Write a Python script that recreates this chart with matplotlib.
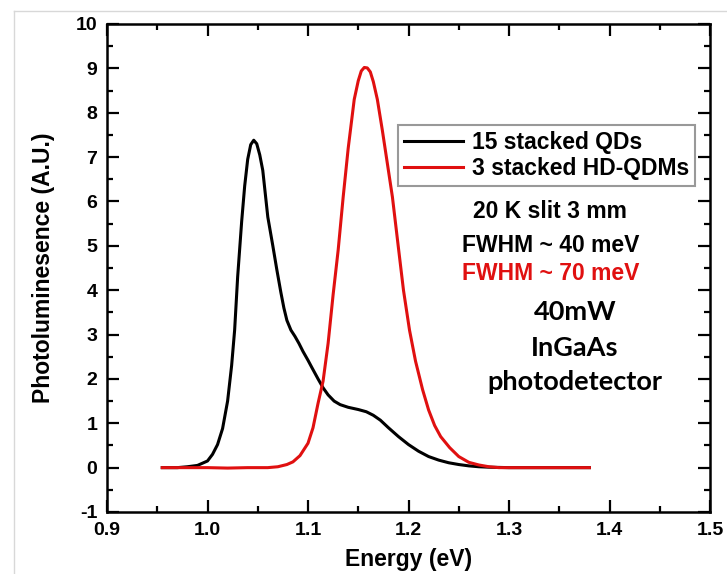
import matplotlib
matplotlib.use("Agg")
import matplotlib.pyplot as plt
from matplotlib.lines import Line2D
from matplotlib.ticker import MultipleLocator

# ---- data ----
qd_energy = [0.955, 0.97, 0.98, 0.99, 1.000, 1.005, 1.010, 1.015, 1.020, 1.024,
             1.027, 1.030, 1.034, 1.037, 1.040, 1.043, 1.046, 1.049, 1.052, 1.055,
             1.060, 1.065, 1.069, 1.073, 1.076, 1.079, 1.083, 1.087, 1.091, 1.095,
             1.100, 1.104, 1.110, 1.115, 1.120, 1.126, 1.132, 1.140, 1.150, 1.158,
             1.165, 1.172, 1.180, 1.190, 1.200, 1.210, 1.220, 1.230, 1.240, 1.250,
             1.260, 1.270, 1.280, 1.300, 1.320, 1.340, 1.360, 1.380]
qd_pl = [0.00, 0.00, 0.02, 0.05, 0.15, 0.30, 0.52, 0.88, 1.50, 2.30,
         3.10, 4.30, 5.55, 6.35, 6.95, 7.28, 7.38, 7.30, 7.05, 6.70,
         5.65, 5.00, 4.46, 3.95, 3.60, 3.32, 3.10, 2.96, 2.80, 2.62,
         2.42, 2.25, 2.00, 1.80, 1.64, 1.50, 1.42, 1.36, 1.31, 1.26,
         1.18, 1.07, 0.90, 0.70, 0.52, 0.37, 0.25, 0.17, 0.11, 0.07,
         0.04, 0.02, 0.01, 0.00, 0.00, 0.00, 0.00, 0.00]

qdm_energy = [0.955, 0.98, 1.00, 1.02, 1.04, 1.06, 1.070, 1.079, 1.085, 1.092,
              1.100, 1.105, 1.110, 1.115, 1.120, 1.125, 1.130, 1.135, 1.140, 1.146,
              1.150, 1.153, 1.156, 1.159, 1.162, 1.165, 1.169, 1.174, 1.179, 1.184,
              1.190, 1.195, 1.201, 1.207, 1.214, 1.220, 1.226, 1.232, 1.241, 1.250,
              1.260, 1.270, 1.280, 1.290, 1.310, 1.330, 1.350, 1.365, 1.380]
qdm_pl = [0.00, 0.00, 0.00, -0.01, 0.00, 0.00, 0.02, 0.07, 0.13, 0.27,
          0.55, 0.90, 1.45, 1.95, 2.80, 3.90, 4.90, 6.10, 7.20, 8.30,
          8.72, 8.94, 9.02, 9.01, 8.92, 8.70, 8.30, 7.60, 6.85, 6.10,
          4.95, 4.00, 3.10, 2.40, 1.76, 1.30, 0.95, 0.70, 0.45, 0.25,
          0.12, 0.06, 0.02, 0.00, 0.00, 0.00, 0.00, 0.00, 0.00]

series_labels = ["15 stacked QDs", "3 stacked HD-QDMs"]
x_ticks = [0.9, 1.0, 1.1, 1.2, 1.3, 1.4, 1.5]
y_ticks = [-1, 0, 1, 2, 3, 4, 5, 6, 7, 8, 9, 10]

W, H = 727, 574
fig = plt.figure(figsize=(W / 100, H / 100), dpi=100)
ax = fig.add_axes([107 / W, 1 - 512 / H, (710 - 107) / W, (512 - 24) / H])

sans = ["Liberation Sans", "DejaVu Sans"]

ax.plot(qd_energy, qd_pl, color="black", lw=2.2, label=series_labels[0], zorder=3)
ax.plot(qdm_energy, qdm_pl, color="#e01010", lw=2.2, label=series_labels[1], zorder=4)

ax.set_xlim(0.9, 1.5)
ax.set_ylim(-1, 10)
ax.set_xticks(x_ticks)
ax.set_yticks(y_ticks)
ax.set_xticklabels([f"{v:.1f}" for v in x_ticks])
ax.set_yticklabels([str(v) for v in y_ticks])
ax.xaxis.set_minor_locator(MultipleLocator(0.05))
ax.yaxis.set_minor_locator(MultipleLocator(0.5))
ax.tick_params(which="both", direction="in", top=True, right=True, width=1.6)
ax.tick_params(which="major", length=8.5, pad=7)
ax.tick_params(which="minor", length=4.5)
for lbl in ax.get_xticklabels() + ax.get_yticklabels():
    lbl.set_fontfamily(sans)
    lbl.set_fontweight("bold")
    lbl.set_fontsize(14)
for s in ax.spines.values():
    s.set_linewidth(1.8)

ax.set_xlabel("Energy (eV)", fontsize=16.5, fontweight="bold", family=sans, labelpad=7)
ax.set_ylabel("Photoluminesence (A.U.)", fontsize=16.5, fontweight="bold", family=sans, labelpad=15)

leg = ax.legend(loc="upper left", bbox_to_anchor=((398 - 107) / 603, 1 - (125 - 24) / 488),
                frameon=True, fancybox=False, edgecolor="#808080", handlelength=2.6,
                prop={"family": sans, "weight": "bold", "size": 16.5},
                borderpad=0.25, labelspacing=0.15, handletextpad=0.4, borderaxespad=0)
leg.get_frame().set_linewidth(1.5)

def px(xp, yp):
    return (xp - 107) / 603, (512 - yp) / 488

ax.text(*px(550, 212), "20 K slit 3 mm", transform=ax.transAxes, ha="center", va="center",
        fontsize=16.5, fontweight="bold", family=sans)
ax.text(*px(551, 245), "FWHM ~ 40 meV", transform=ax.transAxes, ha="center", va="center",
        fontsize=16.5, fontweight="bold", family=sans)
ax.text(*px(551, 273), "FWHM ~ 70 meV", transform=ax.transAxes, ha="center", va="center",
        fontsize=16.5, fontweight="bold", family=sans, color="#e01010")

cal = ["Lato", "DejaVu Sans"]
for txt, yp in [("40mW", 312), ("InGaAs", 348), ("photodetector", 382)]:
    ax.text(*px(575, yp), txt, transform=ax.transAxes, ha="center", va="center",
            fontsize=19.5, fontweight="bold", family=cal)

# faint frame around the picture
fig.add_artist(Line2D([14 / W, 14 / W], [0, 1 - 11 / H], color="#d8d8d8", lw=1))
fig.add_artist(Line2D([14 / W, 1], [1 - 11 / H, 1 - 11 / H], color="#d8d8d8", lw=1))

fig.savefig("out.png", dpi=100)
